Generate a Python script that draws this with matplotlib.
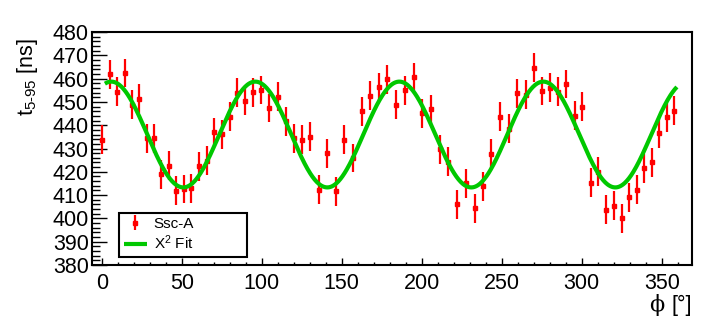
import matplotlib
matplotlib.use('Agg')
import numpy as np
import matplotlib.pyplot as plt
from matplotlib.ticker import MultipleLocator
from matplotlib.offsetbox import AnchoredOffsetbox, TextArea, HPacker

plt.rcParams['font.family'] = ['Liberation Sans', 'DejaVu Sans']
plt.rcParams['mathtext.fontset'] = 'custom'
plt.rcParams['mathtext.rm'] = 'Liberation Sans'
plt.rcParams['mathtext.it'] = 'Liberation Sans'

# ---- data ----
phi = [0.4, 5.2, 9.8, 14.4, 18.9, 23.5, 28.1, 32.7, 37.3, 42.1, 46.7, 51.4, 56.0, 60.8,
       65.6, 70.2, 75.2, 80.0, 84.8, 89.8,
       94.8, 99.8, 104.8, 110.0, 115.0, 120.0, 125.2, 130.4, 135.6, 141.0, 146.4, 151.6,
       157.1, 162.5, 167.7, 173.1, 178.5, 183.9,
       189.6, 195.0, 200.4, 205.8, 211.2, 216.6, 222.3, 227.7, 233.1, 238.3, 243.6, 249.0,
       254.4, 259.6, 265.0, 270.2, 275.2,
       280.4, 285.4, 290.4, 295.6, 300.4, 305.6, 310.4, 315.2, 320.0, 325.0, 329.6, 334.4,
       339.1, 343.9, 348.5, 353.1, 357.7]
t595 = [433.7, 461.9, 454.4, 462.4, 448.7, 451.4, 434.4, 434.3, 418.9, 422.7, 411.9, 412.6,
        412.9, 422.4, 424.8, 437.1, 436.1, 443.7, 454.0, 450.6,
        454.1, 455.1, 447.4, 452.3, 441.6, 434.4, 433.7, 435.1, 412.3, 428.0, 411.6, 433.7,
        425.9, 445.9, 452.7, 456.3, 459.7, 448.7,
        454.9, 460.6, 445.1, 446.9, 429.7, 424.4, 406.1, 415.1, 404.4, 413.7, 427.7, 443.7,
        438.4, 453.7, 453.0, 464.7, 454.7,
        456.1, 454.4, 457.7, 444.0, 448.0, 415.4, 420.1, 403.7, 405.4, 400.1, 409.1, 412.3,
        421.6, 424.0, 436.6, 443.4, 446.3]
t595_err = [6.2] * len(phi)

# fit parameters: p0 + p1*cos(4*(phi - phi0))
fit_p0 = 436.0
fit_p1 = 22.7
fit_phi0 = 6.0
fit_range = (2.0, 359.5)

series_label = 'Ssc-A'
fit_label = r'$\mathregular{X^{2}}$ Fit'

# ---- figure ----
W, H = 706, 321
fig = plt.figure(figsize=(W / 100, H / 100), dpi=100)
ax = fig.add_axes([91.7 / W, 56 / H, 600 / W, 233 / H])

eb = ax.errorbar(phi, t595, yerr=t595_err, fmt='s', color='#ff0000', ms=3.2,
                 elinewidth=1.6, capsize=0, zorder=3)
xf = np.linspace(fit_range[0], fit_range[1], 800)
ln, = ax.plot(xf, fit_p0 + fit_p1 * np.cos(np.radians(4 * (xf - fit_phi0))),
              color='#00c800', lw=3, zorder=4, solid_capstyle='butt')

ax.set_xlim(-6.25, 368.75)
ax.set_ylim(380, 480)
ax.xaxis.set_major_locator(MultipleLocator(50))
ax.xaxis.set_minor_locator(MultipleLocator(10))
ax.yaxis.set_major_locator(MultipleLocator(10))
ax.yaxis.set_minor_locator(MultipleLocator(2))
ax.tick_params(direction='in', which='both', top=False, right=False, labelsize=15.5,
               colors='black')
ax.tick_params(axis='x', which='major', length=5, width=1, pad=6)
ax.tick_params(axis='x', which='minor', length=2.5, width=1)
ax.tick_params(axis='y', which='major', length=10.8, width=1, pad=2)
ax.tick_params(axis='y', which='minor', length=5.4, width=1)
for s in ax.spines.values():
    s.set_linewidth(1.5)

fig.text(27 / W, 1 - 38 / H, r'$\mathregular{t_{5\text{-}95}}$ [ns]', rotation=90,
         ha='center', va='top', fontsize=15.5)

# x-axis title: serif phi followed by sans "[°]"
xl = HPacker(children=[TextArea('ϕ', textprops=dict(fontsize=16, family=['DejaVu Serif'])),
                       TextArea('[°]', textprops=dict(fontsize=15.5))],
             pad=0, sep=5, align='baseline')
ab = AnchoredOffsetbox(loc='center right', child=xl, pad=0, borderpad=0, frameon=False,
                       bbox_to_anchor=(692 / W, 1 - 305 / H), bbox_transform=fig.transFigure)
fig.add_artist(ab)

leg = ax.legend([eb, ln], [series_label, fit_label], loc='lower left',
                bbox_to_anchor=(0.046, 0.036, 0.2125, 0.16), mode='expand', borderaxespad=0,
                fontsize=11, frameon=True, fancybox=False, edgecolor='black', framealpha=1,
                labelspacing=0.15, borderpad=0.3, handlelength=1.5, handletextpad=0.45)
leg.get_frame().set_linewidth(1.5)

fig.savefig('out.png', dpi=100)
